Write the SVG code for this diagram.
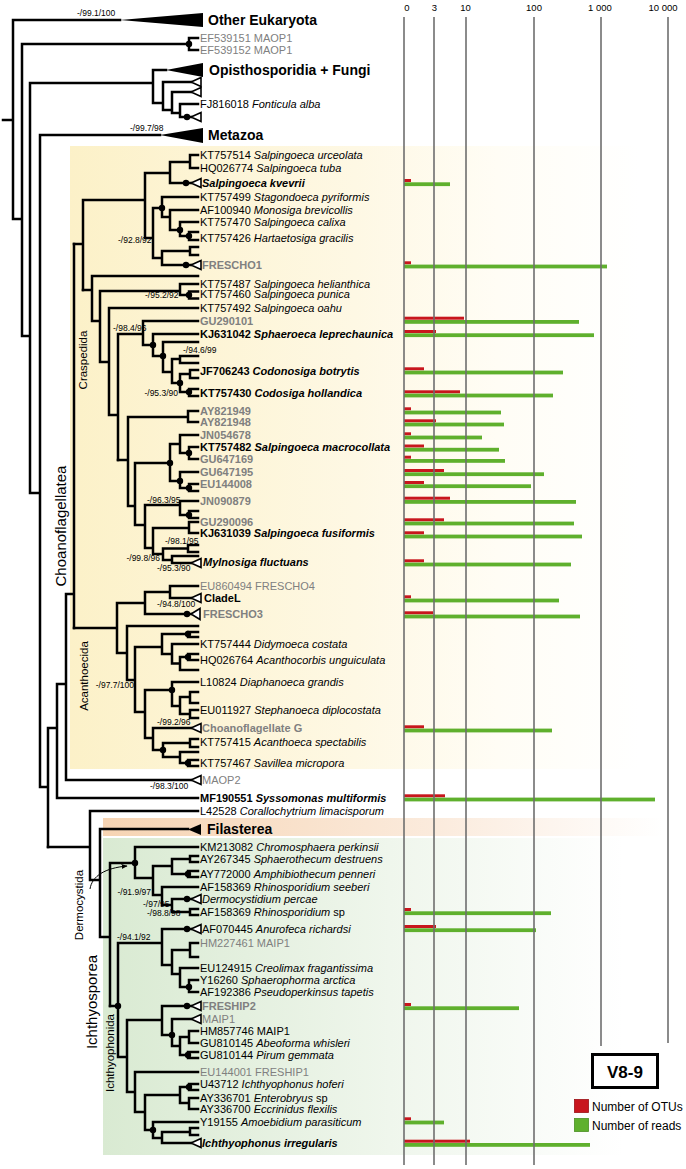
<svg xmlns="http://www.w3.org/2000/svg" width="686" height="1169" viewBox="0 0 686 1169">
<style>
.t{font-family:"Liberation Sans",Arial,sans-serif;font-size:11px;fill:#000}
.g{fill:#808080}
.b{font-weight:bold}
.i{font-style:italic}
.bs{font-family:"Liberation Sans",Arial,sans-serif;font-size:8.5px;fill:#000}
.big{font-family:"Liberation Sans",Arial,sans-serif;font-size:14px;font-weight:bold;fill:#000}
.vl{font-family:"Liberation Sans",Arial,sans-serif;fill:#000}
.tree{fill:none;stroke:#000;stroke-width:2.5;stroke-linecap:square}
.tri{fill:#fff;stroke:#000;stroke-width:1.6}
.ax{stroke:#6e6e6e;stroke-width:1.6}
.r{fill:#C8161D}
.gr{fill:#5FB02D}
.axl{font-family:"Liberation Sans",Arial,sans-serif;font-size:9.5px;fill:#000;text-anchor:middle}
</style>
<defs>
<linearGradient id="gy" gradientUnits="userSpaceOnUse" x1="70" y1="0" x2="640" y2="0">
<stop offset="0" stop-color="#FCF1C8"/><stop offset="0.5" stop-color="#FEF8E4"/><stop offset="0.75" stop-color="#FFFDF5"/><stop offset="1" stop-color="#FFFFFF"/>
</linearGradient>
<linearGradient id="go" gradientUnits="userSpaceOnUse" x1="103" y1="0" x2="663" y2="0">
<stop offset="0" stop-color="#F6D4B3"/><stop offset="0.6" stop-color="#FBEBDD"/><stop offset="1" stop-color="#FFFFFF"/>
</linearGradient>
<linearGradient id="gg" gradientUnits="userSpaceOnUse" x1="103" y1="0" x2="623" y2="0">
<stop offset="0" stop-color="#D9EAD2"/><stop offset="0.55" stop-color="#EFF6EC"/><stop offset="1" stop-color="#FFFFFF"/>
</linearGradient>
<path id="tri" class="tri" d="M0 0L10 -4.5L10 4.5Z"/>
<marker id="arr" viewBox="0 0 10 10" refX="9" refY="5" markerWidth="6" markerHeight="6" orient="auto"><path d="M0 1L10 5L0 9Z" fill="#000"/></marker>
</defs>
<rect width="686" height="1169" fill="#fff"/>
<g id="backgrounds">
<rect x="70" y="146" width="616" height="623" fill="url(#gy)"/>
<rect x="103" y="818" width="560" height="18" fill="url(#go)"/>
<rect x="103" y="838" width="520" height="317" fill="url(#gg)"/>
</g>
<g id="bars">
<rect class="r" x="404" y="179" width="7" height="3"/><rect class="gr" x="404" y="182.3" width="46" height="3.8"/>
<rect class="r" x="404" y="261.3" width="7" height="3"/><rect class="gr" x="404" y="264.6" width="203" height="3.8"/>
<rect class="r" x="404" y="316.7" width="60" height="3"/><rect class="gr" x="404" y="320" width="175" height="3.8"/>
<rect class="r" x="404" y="330" width="32" height="3"/><rect class="gr" x="404" y="333.3" width="190" height="3.8"/>
<rect class="r" x="404" y="367.3" width="20" height="3"/><rect class="gr" x="404" y="370.6" width="159" height="3.8"/>
<rect class="r" x="404" y="390.3" width="56" height="3"/><rect class="gr" x="404" y="393.6" width="149" height="3.8"/>
<rect class="r" x="404" y="407.3" width="7" height="3"/><rect class="gr" x="404" y="410.6" width="97" height="3.8"/>
<rect class="r" x="404" y="419.3" width="32" height="3"/><rect class="gr" x="404" y="422.6" width="100" height="3.8"/>
<rect class="r" x="404" y="432.3" width="7" height="3"/><rect class="gr" x="404" y="435.6" width="78" height="3.8"/>
<rect class="r" x="404" y="444.5" width="20" height="3"/><rect class="gr" x="404" y="447.8" width="95" height="3.8"/>
<rect class="r" x="404" y="455.7" width="7" height="3"/><rect class="gr" x="404" y="459" width="101" height="3.8"/>
<rect class="r" x="404" y="469" width="40" height="3"/><rect class="gr" x="404" y="472.3" width="140" height="3.8"/>
<rect class="r" x="404" y="481" width="20" height="3"/><rect class="gr" x="404" y="484.3" width="127" height="3.8"/>
<rect class="r" x="404" y="496.7" width="46" height="3"/><rect class="gr" x="404" y="500" width="172" height="3.8"/>
<rect class="r" x="404" y="518.3" width="40" height="3"/><rect class="gr" x="404" y="521.6" width="170" height="3.8"/>
<rect class="r" x="404" y="531.3" width="20" height="3"/><rect class="gr" x="404" y="534.6" width="178" height="3.8"/>
<rect class="r" x="404" y="559.3" width="20" height="3"/><rect class="gr" x="404" y="562.6" width="167" height="3.8"/>
<rect class="r" x="404" y="595.3" width="7" height="3"/><rect class="gr" x="404" y="598.6" width="155" height="3.8"/>
<rect class="r" x="404" y="611.3" width="29" height="3"/><rect class="gr" x="404" y="614.6" width="176" height="3.8"/>
<rect class="r" x="404" y="725.3" width="20" height="3"/><rect class="gr" x="404" y="728.6" width="148" height="3.8"/>
<rect class="r" x="404" y="794.3" width="41" height="3"/><rect class="gr" x="404" y="797.6" width="251" height="3.8"/>
<rect class="r" x="404" y="908" width="7" height="3"/><rect class="gr" x="404" y="911.3" width="147" height="3.8"/>
<rect class="r" x="404" y="925" width="32" height="3"/><rect class="gr" x="404" y="928.3" width="132" height="3.8"/>
<rect class="r" x="404" y="1003" width="7" height="3"/><rect class="gr" x="404" y="1006.3" width="115" height="3.8"/>
<rect class="r" x="404" y="1117.3" width="7" height="3"/><rect class="gr" x="404" y="1120.6" width="40" height="3.8"/>
<rect class="r" x="404" y="1139.7" width="66" height="3"/><rect class="gr" x="404" y="1143" width="186" height="3.8"/>
</g>
<g id="axis">
<line class="ax" x1="404" y1="17" x2="404" y2="1165"/>
<line class="ax" x1="434" y1="17" x2="434" y2="1165"/>
<line class="ax" x1="466" y1="17" x2="466" y2="1165"/>
<line class="ax" x1="534" y1="17" x2="534" y2="1165"/>
<line class="ax" x1="601" y1="17" x2="601" y2="1046"/>
<line class="ax" x1="668" y1="17" x2="668" y2="1043"/>
<text class="axl" x="407" y="11">0</text>
<text class="axl" x="434.5" y="11">3</text>
<text class="axl" x="465.5" y="11">10</text>
<text class="axl" x="534" y="11">100</text>
<text class="axl" x="600" y="11">1 000</text>
<text class="axl" x="663" y="11">10 000</text>
</g>
<g id="connectors">
<path class="tree" d="M3 120H13M13 20V219M13 20H120M13 219H22M22 44V336M22 44H189M189 38V50M189 38H198M189 50H198M22 336H30M30 83V493M30 83H153M153 70V103M153 70H166M153 103H163M163 82V110M163 82H191M163 110H172M172 92V113M172 92H191M172 113H180M180 104V117M180 104H198M180 117H191M30 493H40M40 135V787M40 135H160M40 787H48M48 728V847M48 728H57M57 684V798M57 798H198M57 684H66M66 594V780M66 780H191M66 594H74M74 244V628"/>
<path class="tree" d="M74 244H83M83 200V290M83 200H145M145 173V238M145 173H170M170 162V183M170 162H190M190 155V168M190 155H198M190 168H198M170 183H191M145 238H153M153 208V258M153 208H162M162 197V217M162 197H198M162 217H170M170 210V230M170 210H198M170 230H180M180 222V236M180 222H198M180 236H189M189 232V240M189 232H198M189 240H198M153 258H162M162 251V265M162 251H190M190 247V255M190 247H198M190 255H198M162 265H191"/>
<path class="tree" d="M83 290H92M92 276V321M92 276H198M92 321H100M100 291V362M100 291H180M180 284V295M180 284H198M180 295H189M189 291.5V298.5M189 291.5H198M189 298.5H198M100 362H109M109 308V415M109 308H198M109 415H118M118 334V460M118 334H143M143 321V345M143 321H198M143 345H153M153 334V356M153 334H198M153 356H163M163 342V372M163 342H198M163 372H172M172 359V383M172 359H180M180 356V363M180 356H198M180 363H198M172 383H180M180 374V392M180 374H190M190 370V378M190 370H198M190 378H198M180 392H189M189 389V396M189 389H198M189 396H198"/>
<path class="tree" d="M118 460H128M128 417V506M128 417H188M188 411V422M188 411H198M188 422H198M128 506H135M135 463V525M135 463H170M170 444V481M170 444H180M180 435V453M180 435H198M180 453H189M189 447V459M189 447H198M189 459H198M170 481H180M180 472V488M180 472H198M180 488H189M189 484V491M189 484H198M189 491H198M135 525H145M145 505V548M145 505H180M180 501V515M180 501H198M180 515H189M189 511V518M189 511H198M189 518H198M145 548H153M153 528V554M153 528H189M189 522V533M189 522H198M189 533H198M153 554H163M163 548.5V560M163 548.5H188M188 545V552M188 545H198M188 552H198M163 560H172M172 556V563M172 556H198M172 563H191"/>
<path class="tree" d="M74 628H117M117 603V653M117 603H145M145 592V614M145 592H170M170 586V598M170 586H198M170 598H191M145 614H191M117 653H127M127 626V680M127 626H198M127 680H135M135 647V712M135 647H162M162 634V654M162 634H188M188 632V637M188 632H198M188 637H198M162 654H172M172 644V663.5M172 644H198M172 663.5H180M180 657V670M180 657H188M188 654V660M188 654H198M188 660H198M180 670H198M135 712H145M145 690V738M145 690H172M172 682V706M172 682H198M172 706H180M180 697V714M180 697H190M190 692V703M190 692H198M190 703H198M180 714H190M190 710V718M190 710H198M190 718H198M145 738H153M153 728V750M153 728H191M153 750H163M163 743V757M163 743H190M190 739V747M190 739H198M190 747H198M163 757H180M180 752V763M180 752H198M180 763H188M188 760V766M188 760H198M188 766H198"/>
<path class="tree" d="M48 847H90M90 811V880M90 811H198M90 880H100M100 829V937M100 829H188M100 937H110M110 863V1006M110 863H135M135 847V878M135 847H198M135 878H153M153 866V895M153 866H172M172 859V874M172 859H190M190 856V862M190 856H198M190 862H198M172 874H188M188 871V877M188 871H198M188 877H198M153 895H162M162 887V905M162 887H198M162 905H172M172 899V912M172 899H191M172 912H190M190 909V915M190 909H198M190 915H198"/>
<path class="tree" d="M110 1006H118M118 943V1057M118 943H162M162 929V965M162 929H191M162 965H172M172 950V974M172 950H190M190 943V957M190 943H198M190 957H198M172 974H180M180 968V987M180 968H198M180 987H189M189 980V992M189 980H198M189 992H198M118 1057H127M127 1020V1092M127 1020H162M162 1006V1035M162 1006H191M162 1035H172M172 1019V1046M172 1019H191M172 1046H180M180 1037V1055M180 1037H189M189 1031V1043M189 1031H198M189 1043H198M180 1055H188M188 1052V1058M188 1052H198M188 1058H198M127 1092H135M135 1072V1112M135 1072H198M135 1112H145M145 1095V1130M145 1095H180M180 1087V1103M180 1087H189M189 1084V1090M189 1084H198M189 1090H198M180 1103H189M189 1098V1109M189 1098H198M189 1109H198M145 1130H153M153 1122V1138M153 1122H198M153 1138H162M162 1132V1143M162 1132H190M190 1128V1135M190 1128H198M190 1135H198M162 1143H191"/>
<polygon points="120,20 203,13 203,27" fill="#000"/>
<polygon points="166,70 203,63 203,77" fill="#000"/>
<polygon points="160,135 203,128 203,143" fill="#000"/>
<polygon points="188,829.5 201,824 201,835" fill="#000"/>
<g fill="#000">
<circle cx="189" cy="44" r="3.2"/><circle cx="187" cy="117" r="3.2"/><circle cx="186" cy="183" r="3.2"/><circle cx="162" cy="208" r="3.2"/><circle cx="180" cy="230" r="3.2"/><circle cx="189" cy="236" r="3.2"/><circle cx="186" cy="265" r="3.2"/><circle cx="189" cy="295" r="3.2"/><circle cx="153" cy="345" r="3.2"/><circle cx="163" cy="356" r="3.2"/><circle cx="180" cy="383" r="3.2"/><circle cx="189" cy="392" r="3.2"/><circle cx="170" cy="463" r="3.2"/><circle cx="189" cy="453" r="3.2"/><circle cx="180" cy="481" r="3.2"/><circle cx="189" cy="488" r="3.2"/><circle cx="189" cy="515" r="3.2"/><circle cx="187" cy="614" r="3.2"/><circle cx="188" cy="634" r="3.2"/><circle cx="188" cy="657" r="3.2"/><circle cx="172" cy="690" r="3.2"/><circle cx="163" cy="750" r="3.2"/><circle cx="188" cy="763" r="3.2"/><circle cx="135" cy="863" r="3.2"/><circle cx="188" cy="874" r="3.2"/><circle cx="187" cy="899" r="3.2"/><circle cx="118" cy="1006" r="3.2"/><circle cx="187" cy="929" r="3.2"/><circle cx="189" cy="987" r="3.2"/><circle cx="187" cy="1006" r="3.2"/><circle cx="172" cy="1035" r="3.2"/><circle cx="188" cy="1055" r="3.2"/><circle cx="189" cy="1087" r="3.2"/><circle cx="153" cy="1130" r="3.2"/>
</g>
<use href="#tri" x="191" y="82"/><use href="#tri" x="191" y="92"/><use href="#tri" x="191" y="117"/><use href="#tri" x="191" y="183"/><use href="#tri" x="191" y="265"/><use href="#tri" x="191" y="563"/><use href="#tri" x="191" y="598"/><path class="tri" d="M191 614L200 608.5L200 619.5Z"/><use href="#tri" x="191" y="728"/><use href="#tri" x="191" y="780"/><use href="#tri" x="191" y="899"/><use href="#tri" x="191" y="929"/><use href="#tri" x="191" y="1006"/><use href="#tri" x="191" y="1019"/><use href="#tri" x="191" y="1143"/>
<path d="M90 889C92 876 105 868 127 866" fill="none" stroke="#000" stroke-width="1" marker-end="url(#arr)"/>
</g>
<g id="support">
<text class="bs" x="77" y="16">-/99.1/100</text>
<text class="bs" x="130" y="131">-/99.7/98</text>
<text class="bs" x="118" y="243">-/92.8/92</text>
<text class="bs" x="145" y="298">-/95.2/92</text>
<text class="bs" x="113" y="331">-/98.4/96</text>
<text class="bs" x="183" y="353">-/94.6/99</text>
<text class="bs" x="178" y="396" text-anchor="end">-/95.3/90</text>
<text class="bs" x="147" y="503">-/96.3/95</text>
<text class="bs" x="165" y="544">-/98.1/95</text>
<text class="bs" x="160" y="561" text-anchor="end">-/99.8/96</text>
<text class="bs" x="157" y="571">-/95.3/90</text>
<text class="bs" x="157" y="607">-/94.8/100</text>
<text class="bs" x="134" y="688" text-anchor="end">-/97.7/100</text>
<text class="bs" x="157" y="725">-/99.2/96</text>
<text class="bs" x="150" y="789">-/98.3/100</text>
<text class="bs" x="151" y="895" text-anchor="end">-/91.9/97</text>
<text class="bs" x="143" y="906.5">-/97/95</text>
<text class="bs" x="147" y="916">-/98.8/98</text>
<text class="bs" x="117" y="940">-/94.1/92</text>
</g>
<g id="clade-labels">
<text class="vl" font-size="15" transform="translate(66 526) rotate(-90)" text-anchor="middle">Choanoflagellatea</text>
<text class="vl" font-size="11.5" transform="translate(87 360) rotate(-90)" text-anchor="middle">Craspedida</text>
<text class="vl" font-size="11.5" transform="translate(88 676) rotate(-90)" text-anchor="middle">Acanthoecida</text>
<text class="vl" font-size="15" transform="translate(97 1002) rotate(-90)" text-anchor="middle">Ichthyosporea</text>
<text class="vl" font-size="11.5" transform="translate(83 905) rotate(-90)" text-anchor="middle">Dermocystida</text>
<text class="vl" font-size="11.5" transform="translate(114 1053) rotate(-90)" text-anchor="middle">Ichthyophonida</text>
</g>
<g id="n-other-eukaryota"><text class="big" x="208" y="25">Other Eukaryota</text></g>
<g id="n-ef539151"><text class="t g" x="200" y="42">EF539151 MAOP1</text></g>
<g id="n-ef539152"><text class="t g" x="200" y="54">EF539152 MAOP1</text></g>
<g id="n-opisthosporidia"><text class="big" x="209" y="75">Opisthosporidia + Fungi</text></g>
<g id="n-fj816018"><text class="t" x="200" y="108">FJ816018 <tspan class="i">Fonticula alba</tspan></text></g>
<g id="n-metazoa"><text class="big" x="208" y="140">Metazoa</text></g>
<g id="n-kt757514"><text class="t" x="200" y="159">KT757514 <tspan class="i">Salpingoeca urceolata</tspan></text></g>
<g id="n-hq026774"><text class="t" x="200" y="172">HQ026774 <tspan class="i">Salpingoeca tuba</tspan></text></g>
<g id="n-kvevrii"><text class="t b i" x="202" y="187">Salpingoeca kvevrii</text></g>
<g id="n-kt757499"><text class="t" x="200" y="201">KT757499 <tspan class="i">Stagondoeca pyriformis</tspan></text></g>
<g id="n-af100940"><text class="t" x="200" y="214">AF100940 <tspan class="i">Monosiga brevicollis</tspan></text></g>
<g id="n-kt757470"><text class="t" x="200" y="226">KT757470 <tspan class="i">Salpingoeca calixa</tspan></text></g>
<g id="n-kt757426"><text class="t" x="200" y="242">KT757426 <tspan class="i">Hartaetosiga gracilis</tspan></text></g>
<g id="n-frescho1"><text class="t g b" x="202" y="269">FRESCHO1</text></g>
<g id="n-kt757487"><text class="t" x="200" y="288">KT757487 <tspan class="i">Salpingoeca helianthica</tspan></text></g>
<g id="n-kt757460"><text class="t" x="200" y="298">KT757460 <tspan class="i">Salpingoeca punica</tspan></text></g>
<g id="n-kt757492"><text class="t" x="200" y="312">KT757492 <tspan class="i">Salpingoeca oahu</tspan></text></g>
<g id="n-gu290101"><text class="t g b" x="200" y="325">GU290101</text></g>
<g id="n-kj631042"><text class="t b" x="200" y="338">KJ631042 <tspan class="i">Sphaeroeca leprechaunica</tspan></text></g>
<g id="n-jf706243"><text class="t b" x="200" y="375">JF706243 <tspan class="i">Codonosiga botrytis</tspan></text></g>
<g id="n-kt757430"><text class="t b" x="200" y="397">KT757430 <tspan class="i">Codosiga hollandica</tspan></text></g>
<g id="n-ay821949"><text class="t g b" x="200" y="415">AY821949</text></g>
<g id="n-ay821948"><text class="t g b" x="200" y="426">AY821948</text></g>
<g id="n-jn054678"><text class="t g b" x="200" y="439">JN054678</text></g>
<g id="n-kt757482"><text class="t b" x="200" y="451">KT757482 <tspan class="i">Salpingoeca macrocollata</tspan></text></g>
<g id="n-gu647169"><text class="t g b" x="200" y="463">GU647169</text></g>
<g id="n-gu647195"><text class="t g b" x="200" y="476">GU647195</text></g>
<g id="n-eu144008"><text class="t g b" x="200" y="488">EU144008</text></g>
<g id="n-jn090879"><text class="t g b" x="200" y="505">JN090879</text></g>
<g id="n-gu290096"><text class="t g b" x="200" y="526">GU290096</text></g>
<g id="n-kj631039"><text class="t b" x="200" y="537">KJ631039 <tspan class="i">Salpingoeca fusiformis</tspan></text></g>
<g id="n-mylnosiga"><text class="t b i" x="203" y="566">Mylnosiga fluctuans</text></g>
<g id="n-eu860494"><text class="t g" x="200" y="590">EU860494 FRESCHO4</text></g>
<g id="n-cladel"><text class="t b" x="204" y="602" font-size="10">CladeL</text></g>
<g id="n-frescho3"><text class="t g b" x="203" y="618" font-size="11.5">FRESCHO3</text></g>
<g id="n-kt757444"><text class="t" x="200" y="648">KT757444 <tspan class="i">Didymoeca costata</tspan></text></g>
<g id="n-hq026764"><text class="t" x="200" y="664">HQ026764 <tspan class="i">Acanthocorbis unguiculata</tspan></text></g>
<g id="n-l10824"><text class="t" x="200" y="686">L10824 <tspan class="i">Diaphanoeca grandis</tspan></text></g>
<g id="n-eu011927"><text class="t" x="200" y="714">EU011927 <tspan class="i">Stephanoeca diplocostata</tspan></text></g>
<g id="n-choano-g"><text class="t g b" x="202" y="732">Choanoflagellate G</text></g>
<g id="n-kt757415"><text class="t" x="200" y="746">KT757415 <tspan class="i">Acanthoeca spectabilis</tspan></text></g>
<g id="n-kt757467"><text class="t" x="200" y="767">KT757467 <tspan class="i">Savillea micropora</tspan></text></g>
<g id="n-maop2"><text class="t g" x="202" y="784">MAOP2</text></g>
<g id="n-mf190551"><text class="t b" x="200" y="802">MF190551 <tspan class="i">Syssomonas multiformis</tspan></text></g>
<g id="n-l42528"><text class="t" x="200" y="815">L42528 <tspan class="i">Corallochytrium limacisporum</tspan></text></g>
<g id="n-filasterea"><text class="big" x="207" y="834">Filasterea</text></g>
<g id="n-km213082"><text class="t" x="200" y="851">KM213082 <tspan class="i">Chromosphaera perkinsii</tspan></text></g>
<g id="n-ay267345"><text class="t" x="200" y="863">AY267345 <tspan class="i">Sphaerothecum destruens</tspan></text></g>
<g id="n-ay772000"><text class="t" x="200" y="878">AY772000 <tspan class="i">Amphibiothecum penneri</tspan></text></g>
<g id="n-af158369a"><text class="t" x="200" y="891">AF158369 <tspan class="i">Rhinosporidium seeberi</tspan></text></g>
<g id="n-dermocystidium"><text class="t i" x="202" y="903">Dermocystidium percae</text></g>
<g id="n-af158369b"><text class="t" x="200" y="916">AF158369 <tspan class="i">Rhinosporidium</tspan> sp</text></g>
<g id="n-af070445"><text class="t" x="202" y="933">AF070445 <tspan class="i">Anurofeca richardsi</tspan></text></g>
<g id="n-hm227461"><text class="t g" x="200" y="947">HM227461 MAIP1</text></g>
<g id="n-eu124915"><text class="t" x="200" y="972">EU124915 <tspan class="i">Creolimax fragantissima</tspan></text></g>
<g id="n-y16260"><text class="t" x="200" y="984">Y16260 <tspan class="i">Sphaerophorma arctica</tspan></text></g>
<g id="n-af192386"><text class="t" x="200" y="996">AF192386 <tspan class="i">Pseudoperkinsus tapetis</tspan></text></g>
<g id="n-freship2"><text class="t g b" x="202" y="1010">FRESHIP2</text></g>
<g id="n-maip1"><text class="t g" x="202" y="1023">MAIP1</text></g>
<g id="n-hm857746"><text class="t" x="200" y="1035">HM857746 MAIP1</text></g>
<g id="n-gu810145"><text class="t" x="200" y="1047">GU810145 <tspan class="i">Abeoforma whisleri</tspan></text></g>
<g id="n-gu810144"><text class="t" x="200" y="1059">GU810144 <tspan class="i">Pirum gemmata</tspan></text></g>
<g id="n-eu144001"><text class="t g" x="200" y="1076">EU144001 FRESHIP1</text></g>
<g id="n-u43712"><text class="t" x="200" y="1088">U43712 <tspan class="i">Ichthyophonus hoferi</tspan></text></g>
<g id="n-ay336701"><text class="t" x="200" y="1102">AY336701 <tspan class="i">Enterobryus</tspan> sp</text></g>
<g id="n-ay336700"><text class="t" x="200" y="1113">AY336700 <tspan class="i">Eccrinidus flexilis</tspan></text></g>
<g id="n-y19155"><text class="t" x="200" y="1126">Y19155 <tspan class="i">Amoebidium parasiticum</tspan></text></g>
<g id="n-irregularis"><text class="t b i" x="202" y="1147">Ichthyophonus irregularis</text></g>
<g id="legend">
<rect x="592.5" y="1054.5" width="65" height="33" fill="#fff" stroke="#000" stroke-width="3"/>
<text x="625" y="1078" text-anchor="middle" font-family="Liberation Sans, Arial, sans-serif" font-size="17" font-weight="bold">V8-9</text>
<rect x="574.5" y="1099.5" width="14" height="13" fill="#C8161D" stroke="#9b1016" stroke-width="0.8"/>
<text x="592" y="1110.5" font-family="Liberation Sans, Arial, sans-serif" font-size="12">Number of OTUs</text>
<rect x="574.5" y="1118.5" width="14" height="13" fill="#5FB02D" stroke="#4a8f22" stroke-width="0.8"/>
<text x="592" y="1129.5" font-family="Liberation Sans, Arial, sans-serif" font-size="12">Number of reads</text>
</g>
</svg>
